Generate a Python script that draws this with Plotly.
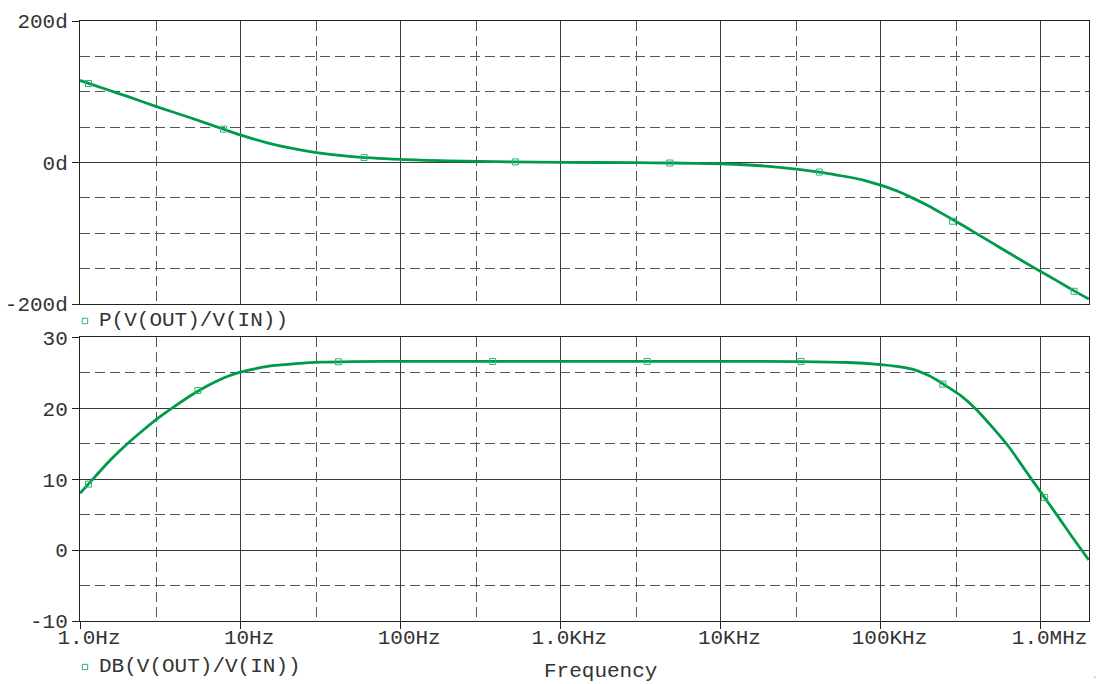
import plotly.graph_objects as go

# ---------------- data ----------------
phase_freq = [1, 1.5, 2, 3, 5, 7.9, 10, 15, 20, 30, 50, 100, 200, 500, 1000,
              3000, 5000, 10000, 15000, 20000, 31600, 41500, 50000, 63000,
              80000, 100000, 126000, 158000, 200000, 251000, 316000, 398000,
              501000, 631000, 794000, 1000000, 1260000, 1580000, 2000000]
phase_deg = [116, 102.5, 93, 79, 62.5, 47, 39, 27.5, 21, 14, 8.3, 4.4, 2.3, 0.8, 0.3,
             -0.3, -0.7, -1.8, -3.5, -5.5, -10, -13.5, -16.5, -20.5,
             -25.5, -32, -40, -50, -61.5, -74, -87, -100.5,
             -114, -127.5, -141, -154, -167, -180, -193]

db_freq = [1, 1.26, 1.58, 2, 2.51, 3.16, 3.98, 5.01, 6.31, 7.94, 10, 12.6, 15.8,
           22.4, 31.6, 50, 100, 1000, 10000, 31600, 63000, 100000, 126000,
           158000, 200000, 251000, 316000, 398000, 501000, 631000, 794000,
           1000000, 1260000, 1580000, 2000000]
gain_db = [8.0, 10.5, 12.9, 15.1, 17.0, 18.8, 20.4, 21.9, 23.2, 24.3, 25.1, 25.6, 26.0,
           26.3, 26.5, 26.58, 26.6, 26.6, 26.6, 26.58, 26.45, 26.15, 25.9,
           25.5, 24.6, 23.3, 21.8, 19.8, 17.3, 14.6, 11.4,
           8.2, 5.0, 1.8, -1.4]

phase_mark_freq = [1.13, 7.88, 59.5, 524, 4830, 41500, 282000, 1620000]
phase_mark_deg = [111.6, 47.2, 7.2, 0.8, -0.7, -13.5, -83, -182]

db_mark_freq = [1.13, 5.45, 41.2, 378, 3490, 31900, 245000, 1060000]
db_mark_val = [9.3, 22.5, 26.55, 26.6, 26.6, 26.6, 23.4, 7.4]

x_major = [1, 10, 100, 1000, 10000, 100000, 1000000]
x_labels = ["1.0Hz", "10Hz", "100Hz", "1.0KHz", "10KHz", "100KHz", "1.0MHz"]
x_minor = [3, 30, 300, 3000, 30000, 300000]

p_major = [-200, 0, 200]
p_labels = ["-200d", "0d", "200d"]
p_minor = [-150, -100, -50, 50, 100, 150]

g_major = [-10, 0, 10, 20, 30]
g_labels = ["-10", "0", "10", "20", "30"]
g_minor = [-5, 5, 15, 25]

trace1_name = "P(V(OUT)/V(IN))"
trace2_name = "DB(V(OUT)/V(IN))"
x_title = "Frequency"

# ---------------- styling ----------------
GREEN = "#009B4A"
MARK = "#2DB36A"
TXT = "#333333"
FONT = "Liberation Mono"
FS = 21
W, H = 1097, 684
ML, MR, MT, MB = 80, 8, 21, 63
PW = W - ML - MR
PH = H - MT - MB

def px_x(px):
    return (px - ML) / PW

def px_y(py):
    return (H - MB - py) / PH

fig = go.Figure()

line_style = dict(color=GREEN, width=2.8, shape="spline", smoothing=0.8)
mark_style = dict(symbol="square-open", size=6, color=MARK, line=dict(width=1))

fig.add_trace(go.Scatter(x=phase_freq, y=phase_deg, mode="lines", line=line_style,
                         xaxis="x2", yaxis="y2", showlegend=False, hoverinfo="skip"))
fig.add_trace(go.Scatter(x=phase_mark_freq, y=phase_mark_deg, mode="markers",
                         marker=mark_style, xaxis="x2", yaxis="y2",
                         showlegend=False, hoverinfo="skip"))
fig.add_trace(go.Scatter(x=db_freq, y=gain_db, mode="lines", line=line_style,
                         xaxis="x", yaxis="y", showlegend=False, hoverinfo="skip"))
fig.add_trace(go.Scatter(x=db_mark_freq, y=db_mark_val, mode="markers",
                         marker=mark_style, xaxis="x", yaxis="y",
                         showlegend=False, hoverinfo="skip"))

grid_solid = "#3a3a3a"
grid_dash = "#555555"
dash = "10px,5px"

xcommon = dict(type="log", range=[0, 6.3023], showline=True, mirror=True,
               linecolor="#222", linewidth=1, showgrid=True, gridcolor=grid_solid,
               gridwidth=1, tickmode="array", tickvals=x_major, zeroline=False,
               automargin=False,
               minor=dict(tickvals=x_minor, showgrid=True, gridcolor=grid_dash,
                          griddash=dash, gridwidth=1, ticks=""))

ycommon = dict(tickmode="array", ticks="outside", ticklen=7, tickcolor="#222",
               showline=True, mirror=True, linecolor="#222", linewidth=1,
               showgrid=True, gridcolor=grid_solid, zeroline=False, automargin=False,
               tickfont=dict(family=FONT, size=FS, color=TXT))

fig.update_layout(
    width=W, height=H, autosize=False,
    margin=dict(l=ML, r=MR, t=MT, b=MB, pad=0),
    paper_bgcolor="white", plot_bgcolor="white",
    font=dict(family=FONT, size=FS, color=TXT),
    showlegend=False,
    xaxis=dict(**xcommon, anchor="y", ticktext=x_labels, ticks="outside",
               ticklen=7, tickcolor="#222", tickwidth=1, ticklabelshift=9,
               ticklabelstandoff=-10,
               tickfont=dict(family=FONT, size=FS, color=TXT)),
    xaxis2=dict(**xcommon, anchor="y2", matches="x", showticklabels=False, ticks=""),
    yaxis=dict(**ycommon, domain=[0, px_y(337.3)], range=[-10, 30], anchor="x",
               tickvals=g_major, ticktext=g_labels,
               minor=dict(tickvals=g_minor, showgrid=True, gridcolor=grid_dash,
                          griddash=dash, ticks="")),
    yaxis2=dict(**ycommon, domain=[px_y(304), 1], range=[-200, 200], anchor="x2",
                tickvals=p_major, ticktext=p_labels,
                minor=dict(tickvals=p_minor, showgrid=True, gridcolor=grid_dash,
                           griddash=dash, ticks="")),
)

# legend-like labels (square + name) and axis title
for name, cy in [(trace1_name, 321), (trace2_name, 667)]:
    fig.add_shape(type="rect", xref="paper", yref="paper",
                  xsizemode="pixel", ysizemode="pixel",
                  xanchor=px_x(85), yanchor=px_y(cy),
                  x0=-2.7, x1=2.7, y0=-2.7, y1=2.7,
                  line=dict(color=MARK, width=1), fillcolor="rgba(0,0,0,0)")
    fig.add_annotation(text=name, xref="paper", yref="paper",
                       x=px_x(97), y=px_y(cy - 1), xanchor="left", yanchor="middle",
                       showarrow=False, font=dict(family=FONT, size=FS, color=TXT))

fig.add_annotation(text=x_title, xref="paper", yref="paper",
                   x=px_x(600.5), y=px_y(671), xanchor="center", yanchor="middle",
                   showarrow=False, font=dict(family=FONT, size=FS, color=TXT))

# tiny stray dot seen at the bottom-right corner of the reference
fig.add_annotation(text=".", xref="paper", yref="paper",
                   x=px_x(1094), y=px_y(676), xanchor="center", yanchor="middle",
                   showarrow=False, font=dict(family=FONT, size=9, color="#999999"))

# remove the default page margin so the figure sits at the window's top-left corner
fig.write_html("out.html", config={"responsive": False, "displayModeBar": False},
               post_script="document.body.style.margin='0';document.body.style.padding='0';")
